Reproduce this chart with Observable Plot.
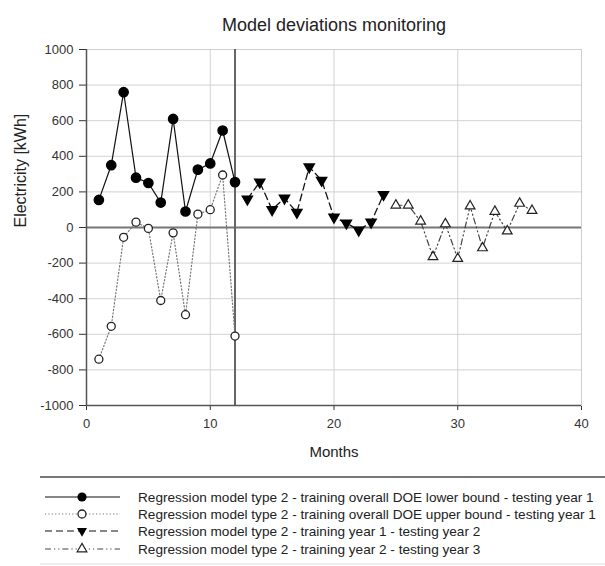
<!DOCTYPE html>
<html><head><meta charset="utf-8">
<script src="https://cdn.jsdelivr.net/npm/d3@7"></script>
<script src="https://cdn.jsdelivr.net/npm/@observablehq/plot@0.6"></script>
<style>body{margin:0;background:#fff;font-family:"Liberation Sans",Arial,sans-serif}#c{position:relative;width:605px;height:566px}</style>
</head><body><div id="c"></div>
<script>
// ---- data ----
const months1 = [1,2,3,4,5,6,7,8,9,10,11,12];
const lowerBound = [155,350,760,280,250,140,610,90,325,360,545,255];
const upperBound = [-740,-555,-55,30,-5,-410,-30,-490,75,100,295,-610];
const months2 = [13,14,15,16,17,18,19,20,21,22,23,24];
const year1test2 = [160,255,100,165,85,340,265,58,25,-15,30,185];
const months3 = [25,26,27,28,29,30,31,32,33,34,35,36];
const year2test3 = [125,125,35,-165,20,-175,120,-115,90,-20,135,95];
const xTicks = [0,10,20,30,40];
const xGrid = [10,20,30];
const yTicks = [-1000,-800,-600,-400,-200,0,200,400,600,800,1000];
const seriesNames = [
  "Regression model type 2 - training overall DOE lower bound - testing year 1",
  "Regression model type 2 - training overall DOE upper bound - testing year 1",
  "Regression model type 2 - training year 1 - testing year 2",
  "Regression model type 2 - training year 2 - testing year 3"
];

const t1 = months1.map((m,i)=>({m, v: lowerBound[i]}));
const t2 = months1.map((m,i)=>({m, v: upperBound[i]}));
const t3 = months2.map((m,i)=>({m, v: year1test2[i]}));
const t4 = months3.map((m,i)=>({m, v: year2test3[i]}));

const sqrt3 = Math.sqrt(3);
const triDown = {draw(ctx, size){
  const y = -Math.sqrt(size / (sqrt3 * 3));
  ctx.moveTo(0, -y * 2); ctx.lineTo(-sqrt3 * y, y); ctx.lineTo(sqrt3 * y, y); ctx.closePath();
}};
const triUp = {draw(ctx, size){
  const y = -Math.sqrt(size / (sqrt3 * 3));
  ctx.moveTo(0, y * 2); ctx.lineTo(-sqrt3 * y, -y); ctx.lineTo(sqrt3 * y, -y); ctx.closePath();
}};

const dash2 = "1.2,2.2", dash3 = "7,4", dash4 = "6,3,1.2,3,1.2,3";
const rTriDown = 3.7, rTriUp = 3.6;

const svg = Plot.plot({
  width: 605, height: 566,
  marginLeft: 86, marginRight: 24, marginTop: 49, marginBottom: 161,
  style: {fontFamily: '"Liberation Sans", Arial, sans-serif', fontSize: "13px", color: "#333", background: "white"},
  x: {domain: [0,40], ticks: xTicks, tickSize: 5, tickPadding: 8, tickFormat: d => String(d), label: null},
  y: {domain: [-1000,1000], ticks: yTicks, tickSize: 7, tickPadding: 6, tickFormat: d => String(d), label: null},
  marks: [
    Plot.gridY(yTicks, {stroke: "#d2d2d2", strokeOpacity: 1}),
    Plot.gridX(xGrid, {stroke: "#d2d2d2", strokeOpacity: 1}),
    Plot.frame({stroke: "#cfcfcf"}),
    Plot.ruleY([0], {stroke: "#777", strokeWidth: 2}),
    Plot.ruleX([12], {stroke: "#666", strokeWidth: 2}),
    Plot.ruleX([0], {stroke: "#555", strokeWidth: 1.5}),
    Plot.ruleY([-1000], {stroke: "#555", strokeWidth: 1.5}),
    Plot.line(t2, {x: "m", y: "v", stroke: "#777", strokeWidth: 1.2, strokeDasharray: dash2}),
    Plot.line(t1, {x: "m", y: "v", stroke: "#111", strokeWidth: 1.2}),
    Plot.line(t3, {x: "m", y: "v", stroke: "#111", strokeWidth: 1.3, strokeDasharray: dash3}),
    Plot.line(t4, {x: "m", y: "v", stroke: "#444", strokeWidth: 1.2, strokeDasharray: dash4}),
    Plot.dot(t2, {x: "m", y: "v", r: 4, fill: "white", stroke: "#222", strokeWidth: 1.3}),
    Plot.dot(t1, {x: "m", y: "v", r: 4.6, fill: "black", stroke: "black"}),
    Plot.dot(t3, {x: "m", y: "v", r: rTriDown, symbol: triDown, fill: "black", stroke: "black"}),
    Plot.dot(t4, {x: "m", y: "v", r: rTriUp, symbol: triUp, fill: "white", stroke: "#222", strokeWidth: 1.2}),
    Plot.text(["Model deviations monitoring"], {frameAnchor: "top", dy: -31, fontSize: 18, fill: "#222"}),
    Plot.text(["Electricity [kWh]"], {frameAnchor: "left", dx: -66, rotate: -90, fontSize: 16, fill: "#222"}),
    Plot.text(["Months"], {frameAnchor: "bottom", dy: 51, fontSize: 15, fill: "#222"})
  ]
});
document.getElementById("c").appendChild(svg);

// ---- legend ----
const g = d3.select(svg).append("g").attr("font-family", '"Liberation Sans", Arial, sans-serif').attr("text-anchor", "start");
g.append("line").attr("x1", 40).attr("x2", 605).attr("y1", 477).attr("y2", 477).attr("stroke", "#777").attr("stroke-width", 2);
g.append("line").attr("x1", 40).attr("x2", 605).attr("y1", 564).attr("y2", 564).attr("stroke", "#ddd").attr("stroke-width", 1);
const rows = [497, 514, 531, 549];
const lineStyles = [
  {stroke: "#111", dash: null},
  {stroke: "#777", dash: dash2},
  {stroke: "#111", dash: dash3},
  {stroke: "#444", dash: dash4}
];
rows.forEach((y, i) => {
  g.append("line").attr("x1", 45).attr("x2", 120).attr("y1", y).attr("y2", y)
    .attr("stroke", lineStyles[i].stroke).attr("stroke-width", 1.2)
    .attr("stroke-dasharray", lineStyles[i].dash);
  const cx = 82;
  if (i === 0) g.append("circle").attr("cx", cx).attr("cy", y).attr("r", 4.6).attr("fill", "black");
  if (i === 1) g.append("circle").attr("cx", cx).attr("cy", y).attr("r", 4).attr("fill", "white").attr("stroke", "#222").attr("stroke-width", 1.3);
  if (i === 2) g.append("path").attr("transform", `translate(${cx},${y})`).attr("d", d3.symbol(triDown, Math.PI * rTriDown * rTriDown)()).attr("fill", "black");
  if (i === 3) g.append("path").attr("transform", `translate(${cx},${y})`).attr("d", d3.symbol(triUp, Math.PI * rTriUp * rTriUp)()).attr("fill", "white").attr("stroke", "#222").attr("stroke-width", 1.2);
  g.append("text").attr("x", 138).attr("y", y).attr("dy", "0.35em").attr("font-size", 13.6).attr("fill", "#222").attr("text-anchor", "start").text(seriesNames[i]);
});
</script>
</body></html>
